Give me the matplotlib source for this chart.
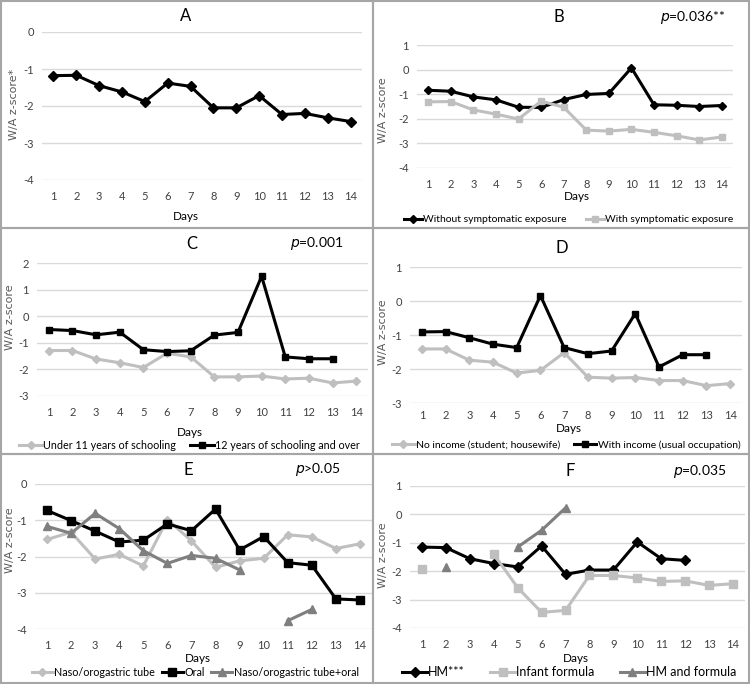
import numpy as np
import matplotlib
matplotlib.use("Agg")
import matplotlib.pyplot as plt
from matplotlib.patches import Rectangle

plt.rcParams['font.family'] = ['Lato', 'DejaVu Sans']
plt.rcParams['axes.unicode_minus'] = False

nan = np.nan
days = list(range(1, 15))

# panel A
a_all = [-1.18, -1.17, -1.45, -1.62, -1.88, -1.38, -1.47, -2.05, -2.05, -1.72, -2.23, -2.2, -2.32, -2.42]

# panel B
b_without = [-0.84, -0.88, -1.11, -1.23, -1.53, -1.54, -1.22, -1.01, -0.97, 0.07, -1.43, -1.45, -1.5, -1.46]
b_with = [-1.31, -1.3, -1.64, -1.81, -2.01, -1.28, -1.53, -2.46, -2.5, -2.43, -2.55, -2.69, -2.86, -2.74]

# panel C
c_under11 = [-1.29, -1.29, -1.61, -1.75, -1.93, -1.39, -1.53, -2.28, -2.28, -2.25, -2.36, -2.33, -2.51, -2.44]
c_over12 = [-0.5, -0.54, -0.7, -0.6, -1.26, -1.33, -1.3, -0.71, -0.61, 1.5, -1.53, -1.6, -1.6, nan]

# panel D
d_noincome = [-1.41, -1.41, -1.74, -1.8, -2.12, -2.04, -1.52, -2.24, -2.27, -2.25, -2.34, -2.34, -2.49, -2.43]
d_income = [-0.91, -0.9, -1.08, -1.27, -1.37, 0.16, -1.37, -1.55, -1.47, -0.37, -1.94, -1.58, -1.58, nan]

# panel E
e_tube = [-1.53, -1.33, -2.07, -1.94, -2.26, -0.98, -1.57, -2.3, -2.12, -2.05, -1.4, -1.46, -1.78, -1.65]
e_oral = [-0.73, -1.01, -1.3, -1.6, -1.55, -1.1, -1.29, -0.69, -1.82, -1.45, -2.17, -2.24, -3.17, -3.2]
e_tube_oral = [-1.17, -1.36, -0.81, -1.23, -1.84, -2.19, -1.97, -2.05, -2.37, nan, -3.77, -3.46, nan, nan]

# panel F
f_hm = [-1.15, -1.17, -1.56, -1.73, -1.85, -1.11, -2.11, -1.96, -1.96, -0.97, -1.56, -1.62, nan, nan]
f_formula = [-1.91, nan, nan, -1.4, -2.58, -3.45, -3.38, -2.15, -2.15, -2.24, -2.36, -2.34, -2.5, -2.44]
f_hm_formula = [nan, -1.84, nan, nan, -1.15, -0.56, 0.23, nan, nan, nan, nan, nan, nan, nan]

BLACK = '#000000'
LIGHT = '#BFBFBF'
DARK = '#7F7F7F'

W, H = 750, 684
fig = plt.figure(figsize=(7.5, 6.84), dpi=100)


def px_axes(l, t, r, b):
    return fig.add_axes([l / W, 1 - b / H, (r - l) / W, (b - t) / H])


def ftext(x, y, s, **kw):
    fig.text(x / W, 1 - y / H, s, ha='center', va='center', **kw)


def setup(ax, ylo, yhi, xpad=8):
    ax.set_xlim(0.5, 14.5)
    ax.set_ylim(ylo, yhi)
    ax.set_xticks(days)
    ax.set_yticks(range(ylo, yhi + 1))
    ax.grid(axis='y', color='#D9D9D9', lw=1)
    ax.set_axisbelow(True)
    for s in ax.spines.values():
        s.set_visible(False)
    ax.tick_params(axis='x', length=0, pad=xpad, labelsize=8, labelcolor='#404040')
    ax.tick_params(axis='y', length=0, pad=6, labelsize=8, labelcolor='#404040')


def panel_text(title, tx, ty, xl, xly, yl_x, yl_y, ylab='W/A z-score', p=None, px=None):
    ftext(tx, ty, title, fontsize=12)
    ftext(xl, xly, 'Days', fontsize=8.5)
    ftext(yl_x, yl_y, ylab, fontsize=8, rotation=90, color='#595959',
          family=['DejaVu Sans'])
    if p is not None:
        ftext(px, ty, p, fontsize=10)


def legend(ax, anchor, ncol, fs, hl=2.0, cs=1.2):
    ax.legend(loc='center', bbox_to_anchor=anchor, ncol=ncol, fontsize=fs,
              frameon=False, handletextpad=0.1, borderpad=0,
              handlelength=hl, columnspacing=cs)


lw = 2.2

# borders
for (l, t, r, b) in [(1, 1, 373, 228), (373, 1, 749, 228), (1, 228, 373, 454),
                     (373, 228, 749, 454), (1, 454, 373, 683), (373, 454, 749, 683)]:
    fig.add_artist(Rectangle((l / W, 1 - b / H), (r - l) / W, (b - t) / H,
                             transform=fig.transFigure, fill=False,
                             edgecolor='#A6A6A6', lw=1.5))

# A
ax = px_axes(42, 32, 362, 180)
setup(ax, -4, 0)
ax.plot(days, a_all, color=BLACK, lw=lw, marker='D', ms=5)
panel_text('A', 186, 16, 186, 216, 14, 104, ylab='W/A z-score*')

# B
ax = px_axes(417, 45, 733, 168)
setup(ax, -4, 1)
ax.plot(days, b_without, color=BLACK, lw=lw, marker='D', ms=4, label='Without symptomatic exposure')
ax.plot(days, b_with, color=LIGHT, lw=lw, marker='s', ms=5, label='With symptomatic exposure')
panel_text('B', 559, 17, 577, 197, 383, 110, p='$\\it{p}$=0.036**', px=693)
legend(ax, (0.48, -0.42), 2, 7.5, hl=1.8, cs=1.8)

# C
ax = px_axes(37, 263, 368, 396)
setup(ax, -3, 2)
ax.plot(days, c_under11, color=LIGHT, lw=lw, marker='D', ms=4, label='Under 11 years of schooling')
ax.plot(days, c_over12, color=BLACK, lw=lw, marker='s', ms=5, label='12 years of schooling and over')
panel_text('C', 192, 244, 190, 432, 10, 317, p='$\\it{p}$=0.001', px=317)
legend(ax, (0.46, -0.37), 2, 7.75, hl=2.2, cs=1.3)

# D
ax = px_axes(410, 267, 742, 403)
setup(ax, -3, 1, xpad=5)
ax.plot(days, d_noincome, color=LIGHT, lw=lw, marker='D', ms=4, label='No income (student; housewife)')
ax.plot(days, d_income, color=BLACK, lw=lw, marker='s', ms=5, label='With income (usual occupation)')
panel_text('D', 562, 248, 569, 429, 383, 332)
legend(ax, (0.47, -0.31), 2, 7.5, hl=2.2, cs=1.3)

# E
ax = px_axes(35, 484, 372, 629)
setup(ax, -4, 0)
ax.plot(days, e_tube, color=LIGHT, lw=lw, marker='D', ms=4, label='Naso/orogastric tube')
ax.plot(days, e_oral, color=BLACK, lw=lw, marker='s', ms=6, label='Oral')
ax.plot(days, e_tube_oral, color=DARK, lw=lw, marker='^', ms=6, label='Naso/orogastric tube+oral')
panel_text('E', 188, 470, 198, 659, 10, 540, p='$\\it{p}$>0.05', px=318)
legend(ax, (0.475, -0.3), 3, 7.75, hl=2.0, cs=0.6)

# F
ax = px_axes(410, 486, 745, 628)
setup(ax, -4, 1)
ax.plot(days, f_hm, color=BLACK, lw=lw, marker='D', ms=5, label='HM***')
ax.plot(days, f_formula, color=LIGHT, lw=lw, marker='s', ms=6, label='Infant formula')
ax.plot(days, f_hm_formula, color=DARK, lw=lw, marker='^', ms=6, label='HM and formula')
panel_text('F', 570, 471, 576, 659, 383, 555, p='$\\it{p}$=0.035', px=700)
legend(ax, (0.475, -0.31), 3, 9, hl=2.0, cs=2.0)

fig.savefig('out.png', dpi=100)
